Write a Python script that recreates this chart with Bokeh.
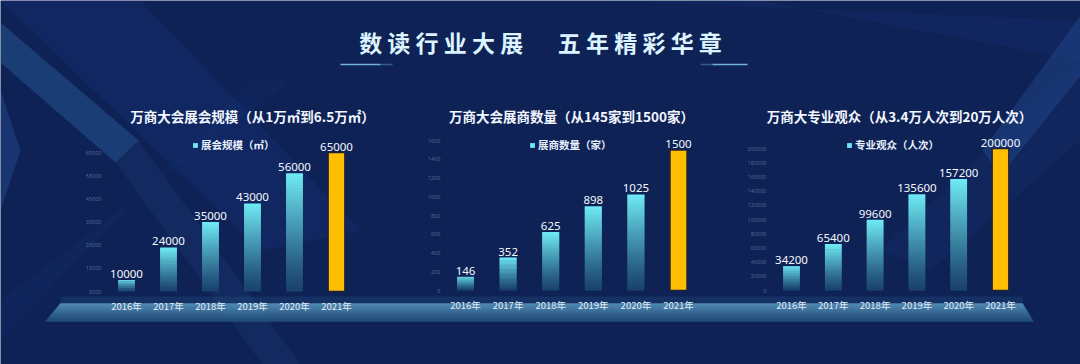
from bokeh.plotting import figure
from bokeh.models import Range1d, ColumnDataSource, Legend, LegendItem
from bokeh.embed import file_html
from bokeh.resources import INLINE
from bokeh.core.properties import value

# ---------------- data ----------------
years = ["2016年", "2017年", "2018年", "2019年", "2020年", "2021年"]

area_vals = [10000, 24000, 35000, 43000, 56000, 65000]
area_ticks = [5000, 15000, 25000, 35000, 45000, 55000, 65000]

exhib_vals = [146, 352, 625, 898, 1025, 1500]
exhib_ticks = [0, 200, 400, 600, 800, 1000, 1200, 1400, 1600]

visit_vals = [34200, 65400, 99600, 135600, 157200, 200000]
visit_ticks = [0, 20000, 40000, 60000, 80000, 100000, 120000, 140000, 160000, 180000, 200000]

main_title = "数 读 行 业 大 展\u2003\u2002五 年 精 彩 华 章"
panel_titles = ["万商大会展会规模（从1万㎡到6.5万㎡）",
                "万商大会展商数量（从145家到1500家）",
                "万商大专业观众（从3.4万人次到20万人次）"]
legend_labels = ["展会规模（㎡）", "展商数量（家）", "专业观众（人次）"]

# ---------------- layout / style ----------------
W, H = 1080, 364
BG = "#0f2256"
CJK = "Noto Sans CJK SC"

panels = [
    dict(vals=area_vals, ticks=area_ticks, c0=126, d=42.0, ybase=291, ytop=152, tx=252, lx=192),
    dict(vals=exhib_vals, ticks=exhib_ticks, c0=465, d=42.6, ybase=290, ytop=140, tx=571, lx=529),
    dict(vals=visit_vals, ticks=visit_ticks, c0=791, d=41.8, ybase=290, ytop=148, tx=899, lx=846),
]

p = figure(width=W, height=H, x_range=Range1d(0, W), y_range=Range1d(H, 0),
           output_backend="svg", toolbar_location=None, min_border=0,
           x_axis_location=None, y_axis_location=None)
p.grid.visible = False
p.outline_line_color = None
p.background_fill_color = BG
p.border_fill_color = BG

# ---------------- background decoration ----------------
p.patch([0, 140, 360, 260], [0, 0, 230, 250], fill_color="#1d47a0", fill_alpha=0.15, line_color=None)
p.patch([0, 0, 115, 138], [22, 62, 162, 140], fill_color="#3d86c6", fill_alpha=0.28, line_color=None)
p.patch([115, 138, 300, 262], [162, 140, 364, 364], fill_color="#3d86c6", fill_alpha=0.08, line_color=None)
p.patch([0, 0, 250, 290], [300, 340, 80, 80], fill_color="#2a5cb0", fill_alpha=0.07, line_color=None)
p.patch([0, 0, 20], [90, 210, 150], fill_color="#3f7fd8", fill_alpha=0.22, line_color=None)
p.patch([1080, 1080, 1000, 982], [15, 75, 175, 150], fill_color="#3b78c8", fill_alpha=0.22, line_color=None)
p.patch([1080, 1080, 930, 880], [60, 140, 270, 250], fill_color="#2a5cb0", fill_alpha=0.08, line_color=None)
p.patch([600, 760, 1080, 1080], [0, 0, 60, 20], fill_color="#1d47a0", fill_alpha=0.12, line_color=None)

# platform band with vertical gradient
nb = 9
top_c = (88, 150, 188)
bot_c = (36, 82, 128)
for j in range(nb):
    ya = 303 + 18 * j / nb
    yb = 303 + 18 * (j + 1) / nb
    xa_l = 60 - 15 * j / nb
    xb_l = 60 - 15 * (j + 1) / nb
    xa_r = 1022 + 11 * j / nb
    xb_r = 1022 + 11 * (j + 1) / nb
    t = j / (nb - 1)
    col = tuple(int(top_c[c] + (bot_c[c] - top_c[c]) * t) for c in range(3))
    p.patch([xa_l, xa_r, xb_r, xb_l], [ya, ya, yb, yb], fill_color="#%02x%02x%02x" % col,
            fill_alpha=0.85, line_color="#%02x%02x%02x" % col, line_alpha=0.85, line_width=0.5)
p.patch([60, 1022, 1022, 60], [296, 296, 303, 303], fill_color="#3d8ab8", fill_alpha=0.15, line_color=None)

# main title
p.text(x=[540], y=[41], text=[main_title], text_align="center", text_baseline="middle",
       text_font=value(CJK), text_font_size="23px", text_font_style="bold", text_color="#dcf4ff")
for (xa, xb, a) in [(340, 380, 0.9), (380, 392, 0.35)]:
    p.segment(x0=[xa], y0=[64], x1=[xb], y1=[64], line_color="#7cc2ec", line_alpha=a, line_width=1.5)
for (xa, xb, a) in [(700, 712, 0.35), (712, 747, 0.9)]:
    p.segment(x0=[xa], y0=[64], x1=[xb], y1=[64], line_color="#7cc2ec", line_alpha=a, line_width=1.5)

# ---------------- panels ----------------
N = 40
grad_top = (112, 236, 245)
grad_bot = (26, 66, 110)
bw = 0.40

for k, cfg in enumerate(panels):
    vals, ticks = cfg["vals"], cfg["ticks"]
    vmin, vmax = ticks[0], ticks[-1]
    s = (vmax - vmin) / (cfg["ybase"] - cfg["ytop"])
    yname, xname = "y%d" % k, "x%d" % k
    p.extra_y_ranges[yname] = Range1d(vmin - (H - cfg["ybase"]) * s, vmin + cfg["ybase"] * s)
    p.extra_x_ranges[xname] = Range1d(-cfg["c0"] / cfg["d"], (W - cfg["c0"]) / cfg["d"])

    idx = list(range(len(years)))

    # gradient bars (all but the last year), drawn bottom-up with slight overlap
    L, R, B, T, C = [], [], [], [], []
    top_row = None
    for i in idx[:-1]:
        step = (vals[i] - vmin) / N
        for j in range(N):
            b = vmin + step * j
            t_ = min(vals[i], vmin + step * (j + 1.6))
            f = ((j + 0.5) / N) ** 1.15
            col = tuple(int(grad_bot[c] + (grad_top[c] - grad_bot[c]) * f) for c in range(3))
            L.append(i - bw / 2); R.append(i + bw / 2); B.append(b); T.append(t_)
            C.append("#%02x%02x%02x" % col)
            if j == N - 1 and top_row is None:
                top_row = len(L) - 1
    src = ColumnDataSource(dict(left=L, right=R, bottom=B, top=T, color=C))
    r_grad = p.quad(left="left", right="right", bottom="bottom", top="top", source=src,
                    fill_color="color", line_color=None,
                    x_range_name=xname, y_range_name=yname)

    # highlighted final year
    p.quad(left=[idx[-1] - bw / 2], right=[idx[-1] + bw / 2], bottom=[vmin], top=[vals[-1]],
           fill_color="#ffbf00", line_color="#20223a", line_width=1.5,
           x_range_name=xname, y_range_name=yname)

    # value labels
    p.text(x=idx, y=vals, text=[str(v) for v in vals], text_align="center", text_baseline="bottom",
           y_offset=-2, text_font=value("Noto Sans"), text_font_size="11.5px", text_color="#f4f8ff",
           x_range_name=xname, y_range_name=yname)

    # category labels
    p.text(x=idx, y=[vmin] * len(idx), text=years, text_align="center", text_baseline="middle",
           y_offset=14, text_font=value(CJK), text_font_size="9.5px", text_color="#e2ebf7",
           x_range_name=xname, y_range_name=yname)

    # faint y tick labels
    p.text(x=[0] * len(ticks), y=ticks, text=[str(t) for t in ticks], text_align="right",
           text_baseline="middle", x_offset=-25, text_font=value("Noto Sans"), text_font_size="5.5px",
           text_color="#8ea3cf", text_alpha=0.55, x_range_name=xname, y_range_name=yname)

    # panel title
    p.text(x=[cfg["tx"]], y=[115], text=[panel_titles[k]], text_align="center", text_baseline="middle",
           text_font=value(CJK), text_font_size="13.5px", text_font_style="bold", text_color="#f2f7ff")

    # legend
    leg = Legend(items=[LegendItem(label=legend_labels[k], renderers=[r_grad], index=top_row)],
                 location=(cfg["lx"], H - 152), orientation="horizontal",
                 background_fill_alpha=0, border_line_alpha=0,
                 label_text_color="#e8f2ff", label_text_font=CJK, label_text_font_size="10.5px",
                 label_text_font_style="bold", glyph_width=6, glyph_height=6, label_standoff=3,
                 padding=0, margin=0, label_height=12, spacing=0)
    p.add_layout(leg)

open("out.html", "w").write(file_html(p, INLINE))
